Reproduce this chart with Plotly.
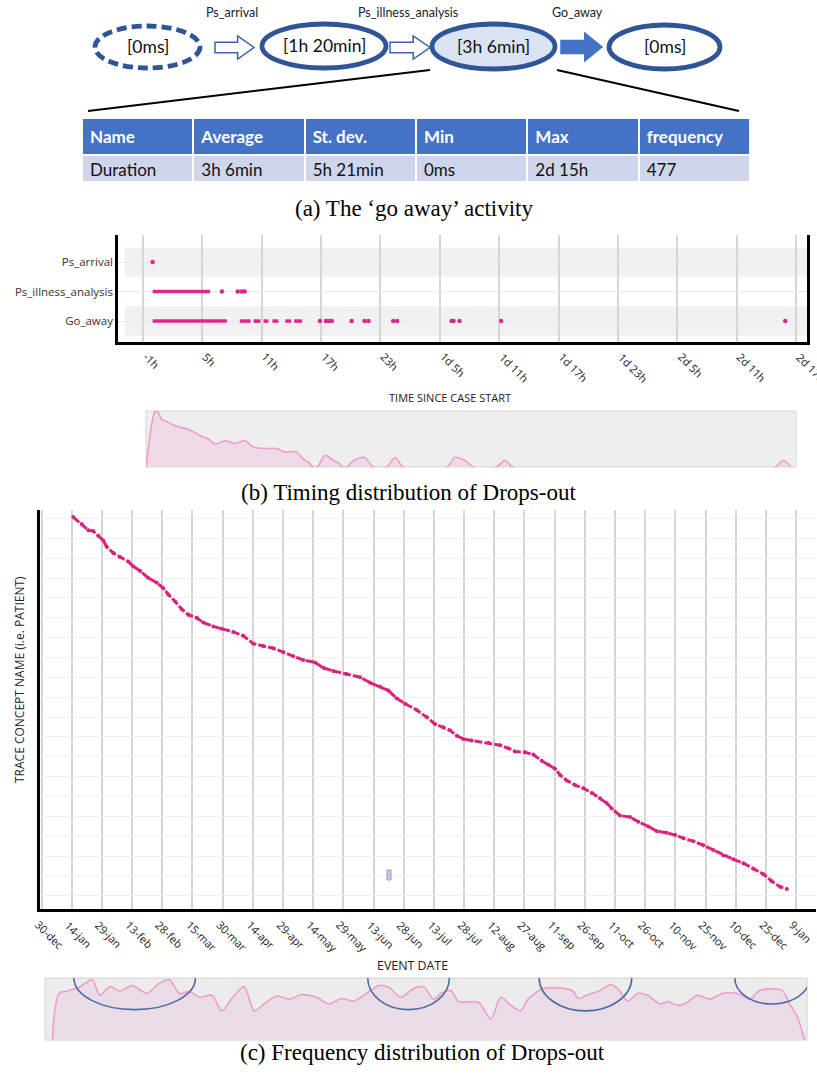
import plotly.graph_objects as go
import pandas as pd

W, H = 817, 1077


def fx(px):
    return px / W


def fy(px):
    return 1 - px / H


# ---------------- (a) process fragment and duration statistics ----------------
step_labels = ["Ps_arrival", "Ps_illness_analysis", "Go_away"]
node_durations = ["[0ms]", "[1h 20min]", "[3h 6min]", "[0ms]"]
table_header = ["Name", "Average", "St. dev.", "Min", "Max", "frequency"]
table_row = ["Duration", "3h 6min", "5h 21min", "0ms", "2d 15h", "477"]

# ---------------- (b) time since case start, in hours ----------------
activities = ["Ps_arrival", "Ps_illness_analysis", "Go_away"]
arrival_hours = [0.0]
illness_run_start = [0.0]
illness_run_end = [5.8]
illness_hours = [7.0, 8.6, 9.0, 9.3]
goaway_run_start = [0.0, 8.8, 10.2, 11.2, 12.1, 13.4, 14.3]
goaway_run_end = [7.5, 9.9, 10.9, 11.7, 12.7, 14.0, 15.1]
goaway_hours = [16.9, 17.5, 17.8, 18.1, 20.1, 21.4, 21.8, 24.3, 24.7,
                30.2, 30.4, 31.0, 35.2, 63.9]
time_tick_hours = [-1, 5, 11, 17, 23, 29, 35, 41, 47, 53, 59, 65]
time_tick_labels = ["-1h", "5h", "11h", "17h", "23h", "1d 5h", "1d 11h",
                    "1d 17h", "1d 23h", "2d 5h", "2d 11h", "2d 17h"]
timing_hours = [-0.8, -0.22, 0.1, 0.35, 0.8, 1.3, 1.96, 2.6, 3.5, 4.15, 4.8,
                5.5, 6.2, 7.2, 8.2, 9.2, 10.0, 11.2, 12.4, 13.1, 14.4, 15.1,
                15.6, 16.1, 16.5, 17.3, 18.1, 18.6, 19.1, 19.5, 20.3, 21.3,
                22.2, 23.5, 24.4, 25.2, 29.6, 30.4, 31.4, 32.3, 34.6, 35.5,
                36.3, 62.8, 63.6, 64.4]
timing_density = [0, 0.76, 0.99, 0.99, 0.85, 0.81, 0.75, 0.71, 0.67, 0.61,
                  0.55, 0.50, 0.41, 0.47, 0.42, 0.47, 0.36, 0.33, 0.33, 0.27,
                  0.27, 0.14, 0.09, 0, 0, 0.21, 0.12, 0.08, 0, 0, 0.13, 0.17,
                  0, 0, 0.17, 0, 0, 0.17, 0.12, 0, 0, 0.12, 0, 0, 0.12, 0]

# ---------------- (c) drop-out event dates per patient ----------------
start_date = "2016-12-30"
drop_day = [15.8, 20.0, 23.3, 25.7, 28.2, 30.7, 32.4, 35.7, 39.0, 43.1, 45.6,
            49.0, 53.1, 57.3, 60.5, 63.0, 66.4, 69.7, 73.0, 77.1, 80.4, 85.4,
            89.6, 95.3, 100.3, 105.3, 110.2, 115.2, 120.2, 125.1, 130.1,
            135.9, 140.1, 145.0, 151.7, 158.3, 163.3, 168.2, 172.4, 176.5,
            180.7, 186.5, 191.4, 195.6, 199.7, 203.0, 206.4, 209.6, 213.8,
            222.1, 227.9, 232.0, 235.3, 240.3, 244.4, 248.6, 251.9, 255.2,
            257.7, 261.0, 265.2, 269.3, 273.5, 277.6, 280.9, 283.4, 287.5,
            292.5, 296.6, 301.6, 305.8, 310.7, 314.9, 319.0, 324.0, 328.9,
            333.9, 338.9, 343.8, 348.8, 353.8, 358.8, 362.9, 367.0, 370.4]
drop_case = [1, 10, 18, 19, 25, 31, 39, 47, 52, 58, 64, 70, 79, 85, 92, 100,
             109, 119, 126, 130, 136, 141, 144, 148, 153, 163, 166, 169, 174,
             179, 184, 187, 194, 198, 202, 206, 213, 218, 223, 233, 240, 248,
             257, 266, 270, 274, 281, 285, 287, 290, 293, 297, 301, 302, 305,
             313, 318, 323, 331, 338, 344, 348, 354, 361, 367, 374, 383, 385,
             391, 397, 403, 405, 408, 412, 416, 421, 427, 434, 439, 444, 451,
             458, 467, 474, 477]
date_tick_labels = ["30-dec", "14-jan", "29-jan", "13-feb", "28-feb", "15-mar",
                    "30-mar", "14-apr", "29-apr", "14-may", "29-may", "13-jun",
                    "28-jun", "13-jul", "28-jul", "12-aug", "27-aug", "11-sep",
                    "26-sep", "11-oct", "26-oct", "10-nov", "25-nov", "10-dec",
                    "25-dec", "9-jan"]
freq_day = [5.4, 8.7, 12.9, 19.1, 25.3, 29.0, 33.9, 38.9, 45.0, 52.5, 57.4,
            63.6, 68.6, 73.5, 78.5, 84.7, 89.6, 94.6, 100.7, 105.7, 110.6,
            116.8, 123.0, 129.2, 136.6, 142.8, 149.0, 155.2, 160.1, 167.6,
            172.5, 178.7, 184.9, 189.8, 194.8, 198.5, 203.5, 207.2, 217.1,
            223.3, 228.2, 233.2, 238.1, 241.8, 249.2, 256.7, 264.1, 266.6,
            271.5, 277.7, 282.7, 286.4, 291.3, 296.3, 301.2, 307.4, 311.1,
            316.1, 321.0, 326.0, 332.2, 338.3, 345.8, 352.0, 356.9, 368.0,
            371.8, 375.5, 379.2]
freq_density = [0, 0.75, 0.79, 0.86, 0.97, 0.72, 0.86, 0.79, 0.88, 0.75, 0.89,
                0.97, 0.75, 0.78, 0.69, 0.72, 0.47, 0.67, 0.86, 0.47, 0.58,
                0.71, 0.66, 0.73, 0.69, 0.58, 0.67, 0.63, 0.72, 0.88, 0.85,
                0.69, 0.83, 0.86, 0.66, 0.75, 0.80, 0.62, 0.61, 0.34, 0.69,
                0.56, 0.47, 0.66, 0.83, 0.84, 0.79, 0.67, 0.73, 0.80, 0.89,
                0.83, 0.63, 0.75, 0.72, 0.58, 0.62, 0.56, 0.61, 0.72, 0.66,
                0.75, 0.75, 0.66, 0.80, 0.80, 0.58, 0.38, 0]
# highlighted periods (day ranges) and how deep each ring reaches
highlight_start = [16.1, 162.1, 247.3, 344.5]
highlight_end = [76.5, 202.7, 293.3, 381.7]
highlight_low = [0.49, 0.49, 0.47, 0.58]

MAGENTA = "#e0268c"
DARK_BLUE = "#2f5597"
MID_BLUE = "#4472c4"
SANS = "Open Sans"
CAL = "Lato"
SERIF = "Liberation Serif"

fig = go.Figure()


def label(text, x, y, size, family=SANS, color="#222", angle=0):
    fig.add_annotation(xref="paper", yref="paper", x=fx(x), y=fy(y), text=text,
                       showarrow=False, xanchor="center", yanchor="middle",
                       textangle=angle, font=dict(family=family, size=size, color=color))


def slanted_ticks(xref, values, texts, top_px, shift, size):
    # 45-degree tick labels hanging below the axis line, starting at each tick
    for v, t in zip(values, texts):
        fig.add_annotation(xref=xref, yref="paper", x=v, y=fy(top_px), text=t,
                           showarrow=False, xanchor="left", yanchor="top",
                           xshift=shift, textangle=45, borderpad=0,
                           font=dict(family=SANS, size=size, color="#222"))


# ---------------- (a) diagram ----------------
node_boxes = [(95, 200, 26, 68), (262, 386, 24, 68), (432, 555, 24, 69), (609, 720, 25, 69)]
for i, (x0, x1, y0, y1) in enumerate(node_boxes):
    fig.add_shape(type="circle", xref="paper", yref="paper",
                  x0=fx(x0), x1=fx(x1), y0=fy(y1), y1=fy(y0),
                  fillcolor="#dae3f3" if i == 2 else "white",
                  line=dict(color=DARK_BLUE, width=4.8,
                            dash="10px,5px" if i == 0 else "solid"))
    label(node_durations[i], (x0 + x1) / 2, (y0 + y1) / 2, 17.5, CAL, "#111")


def arrow_path(x0, x1, y0, y1):
    w, h = x1 - x0, y1 - y0
    hx = x0 + 0.58 * w
    s0, s1 = y0 + 0.27 * h, y1 - 0.27 * h
    ym = (y0 + y1) / 2
    pts = [(x0, s0), (hx, s0), (hx, y0), (x1, ym), (hx, y1), (hx, s1), (x0, s1)]
    return "M " + " L ".join(f"{fx(a):.5f},{fy(b):.5f}" for a, b in pts) + " Z"


arrow_boxes = [(215, 254, 36, 59), (390, 430, 36, 59), (561, 602, 33, 61)]
label_x = [232, 408, 577]
for i, (x0, x1, y0, y1) in enumerate(arrow_boxes):
    filled = i == 2
    fig.add_shape(type="path", xref="paper", yref="paper", path=arrow_path(x0, x1, y0, y1),
                  fillcolor=MID_BLUE if filled else "white",
                  line=dict(color=MID_BLUE if filled else "#3a62ad", width=1.5))
    label(step_labels[i], label_x[i], 12, 12.5, CAL, "#222")

# zoom lines from the highlighted node to the table
for (xa, ya, xb, yb) in [(430, 70, 88, 111), (557, 70, 739, 111)]:
    fig.add_shape(type="line", xref="paper", yref="paper",
                  x0=fx(xa), y0=fy(ya), x1=fx(xb), y1=fy(yb),
                  line=dict(color="black", width=2))

fig.add_trace(go.Table(
    domain=dict(x=[fx(82), fx(750)], y=[fy(181), fy(118)]),
    columnwidth=[1] * len(table_header),
    header=dict(values=[f"<b>{h}</b>" for h in table_header],
                fill_color=MID_BLUE, align="left", height=31,
                line=dict(color="white", width=2),
                font=dict(family=CAL, size=17, color="white")),
    cells=dict(values=[[v] for v in table_row],
               fill_color="#cfd5ea", align="left", height=31,
               line=dict(color="white", width=2),
               font=dict(family=CAL, size=17, color="#111")),
))

# ---------------- (b) timing dot plot ----------------
row_of = {"Ps_arrival": 2, "Ps_illness_analysis": 1, "Go_away": 0}
for act in ("Ps_arrival", "Go_away"):
    r = row_of[act]
    fig.add_shape(type="rect", xref="x domain", yref="y", x0=0.01, x1=1.0,
                  y0=r - 0.5, y1=r + 0.5, fillcolor="#f1f1f1", line_width=0, layer="below")


def runs_xy(starts, ends, row):
    xs, ys = [], []
    for s, e in zip(starts, ends):
        xs += [s, e, None]
        ys += [row, row, None]
    return xs, ys


for starts, ends, act in [(illness_run_start, illness_run_end, "Ps_illness_analysis"),
                          (goaway_run_start, goaway_run_end, "Go_away")]:
    xs, ys = runs_xy(starts, ends, row_of[act])
    fig.add_trace(go.Scatter(x=xs, y=ys, mode="lines", xaxis="x", yaxis="y",
                             line=dict(color=MAGENTA, width=3.5), hoverinfo="skip"))

for hrs, act in [(arrival_hours, "Ps_arrival"), (illness_hours, "Ps_illness_analysis"),
                 (goaway_hours, "Go_away")]:
    fig.add_trace(go.Scatter(x=hrs, y=[row_of[act]] * len(hrs), mode="markers",
                             xaxis="x", yaxis="y",
                             marker=dict(color=MAGENTA, size=4.5, line_width=0)))

slanted_ticks("x", time_tick_hours, time_tick_labels, 348, -4, 11)

# timing density strip
fig.add_shape(type="rect", xref="x2 domain", yref="y2 domain", x0=0, x1=1, y0=0, y1=1,
              fillcolor="#eeeeee", line=dict(color="#d6d6d6", width=1), layer="below")
fig.add_trace(go.Scatter(x=timing_hours, y=timing_density, xaxis="x2", yaxis="y2",
                         mode="lines", line=dict(color="#ee9ccb", width=1.6, shape="spline", smoothing=0.8),
                         fill="tozeroy", fillcolor="rgba(236,214,228,0.85)"))

# ---------------- (c) drop-out dates per patient ----------------
base = pd.Timestamp(start_date)
drop_dates = [base + pd.Timedelta(days=d) for d in drop_day]
tick_dates = list(pd.date_range(base, periods=len(date_tick_labels), freq="15D"))

fig.add_trace(go.Scatter(x=drop_dates, y=drop_case, xaxis="x3", yaxis="y3",
                         mode="lines+markers",
                         line=dict(color="#d9237f", width=3, dash="8px,2px"),
                         marker=dict(color="#d9237f", size=4, line_width=0)))

slanted_ticks("x3", tick_dates, date_tick_labels, 916, -11, 11)

# selection marker left on the canvas
fig.add_shape(type="rect", xref="paper", yref="paper",
              x0=fx(387), x1=fx(391), y0=fy(880), y1=fy(870),
              fillcolor="#c3cce0", line=dict(color="#8e9dc0", width=1))

# frequency density strip
fig.add_shape(type="rect", xref="x4 domain", yref="y4 domain", x0=0, x1=1, y0=0, y1=1,
              fillcolor="#ececec", line=dict(color="#d2d2d2", width=1), layer="below")
fig.add_trace(go.Scatter(x=freq_day, y=freq_density, xaxis="x4", yaxis="y4",
                         mode="lines", line=dict(color="#f09ccb", width=1.6, shape="spline", smoothing=0.8),
                         fill="tozeroy", fillcolor="rgba(234,218,230,0.9)"))
for s, e, lo in zip(highlight_start, highlight_end, highlight_low):
    fig.add_shape(type="circle", xref="x4", yref="y4", x0=s, x1=e,
                  y0=lo, y1=2.0 - lo, line=dict(color="#4c6aa8", width=1.6))

# ---------------- axis titles and captions ----------------
label("TIME SINCE CASE START", 450, 397, 11, SANS, "#222")
label("EVENT DATE", 412, 965, 12.4, SANS, "#222")
label("TRACE CONCEPT NAME (i.e. PATIENT)", 19, 680, 12, SANS, "#222", -90)

label("(a) The ‘go away’ activity", 414, 208, 23, SERIF, "black")
label("(b) Timing distribution of Drops-out", 408, 492, 23, SERIF, "black")
label("(c) Frequency distribution of Drops-out", 422, 1052, 23, SERIF, "black")

fig.update_layout(
    width=W, height=H, margin=dict(l=0, r=0, t=0, b=0, autoexpand=False),
    paper_bgcolor="white", plot_bgcolor="white", showlegend=False,
    xaxis=dict(domain=[fx(118), fx(807)], range=[-3.5, 66.1], anchor="y",
               tickvals=time_tick_hours, showticklabels=False,
               showgrid=True, gridcolor="#d6d6d6", gridwidth=1.5, zeroline=False,
               showline=True, linecolor="black", linewidth=2.5, ticks=""),
    yaxis=dict(domain=[fy(342), fy(235)], range=[-0.71, 2.92], anchor="x",
               tickvals=[row_of[a] for a in activities], ticktext=activities,
               showgrid=True, gridcolor="#e9e9e9", gridwidth=1, zeroline=False,
               showline=True, mirror=True, linecolor="black", linewidth=2.5, ticks="",
               tickfont=dict(family=SANS, size=11.5, color="#333")),
    xaxis2=dict(domain=[fx(146), fx(796)], range=[-0.8, 64.9], anchor="y2", visible=False),
    yaxis2=dict(domain=[fy(467), fy(411)], range=[0, 1.0], anchor="x2", visible=False),
    xaxis3=dict(domain=[fx(40), fx(816)], type="date", anchor="y3",
                range=[base - pd.Timedelta(hours=18), base + pd.Timedelta(days=384.9)],
                tickvals=tick_dates, showticklabels=False,
                showgrid=True, gridcolor="#d4d4d4", gridwidth=1.5, zeroline=False,
                showline=True, linecolor="black", linewidth=2.5, ticks=""),
    yaxis3=dict(domain=[fy(909), fy(510)], range=[502.6, -8], anchor="x3",
                showticklabels=False, tick0=3, dtick=25.4,
                showgrid=True, gridcolor="#efefef", gridwidth=1, zeroline=False,
                showline=True, linecolor="black", linewidth=3, ticks=""),
    xaxis4=dict(domain=[fx(45), fx(807)], range=[1.74, 380.4], anchor="y4", visible=False),
    yaxis4=dict(domain=[fy(1040), fy(978)], range=[0, 1.0], anchor="x4", visible=False),
)

fig.write_html("out.html")
